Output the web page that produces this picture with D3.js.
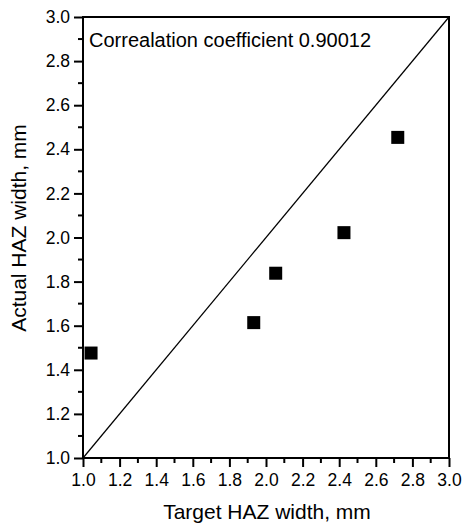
<!DOCTYPE html>
<html>
<head>
<meta charset="utf-8">
<script src="https://cdn.jsdelivr.net/npm/d3@7"></script>
<style>
  body { margin: 0; background: #fff; }
  text { font-family: "Liberation Sans", Arial, sans-serif; fill: #000; }
</style>
</head>
<body>
<script>
// data
const targetWidth = [1.044, 1.933, 2.053, 2.426, 2.72];
const actualWidth = [1.476, 1.614, 1.838, 2.022, 2.454];
const majorTicks = [1.0, 1.2, 1.4, 1.6, 1.8, 2.0, 2.2, 2.4, 2.6, 2.8, 3.0];
const minorTicks = [1.1, 1.3, 1.5, 1.7, 1.9, 2.1, 2.3, 2.5, 2.7, 2.9];
const diagonal = [1.0, 3.0];
const noteText = "Correalation coefficient 0.90012";

const width = 463, height = 524;
const margin = {top: 17, right: 14, bottom: 66, left: 83};

const svg = d3.select("body").append("svg")
    .attr("width", width).attr("height", height);

const x = d3.scaleLinear().domain([1, 3]).range([margin.left, width - margin.right]);
const y = d3.scaleLinear().domain([1, 3]).range([height - margin.bottom, margin.top]);

// y = x reference line
svg.append("line")
    .attr("x1", x(diagonal[0])).attr("y1", y(diagonal[0]))
    .attr("x2", x(diagonal[1])).attr("y2", y(diagonal[1]))
    .attr("stroke", "#000").attr("stroke-width", 1.2);

// frame
svg.append("rect")
    .attr("x", x(1)).attr("y", y(3))
    .attr("width", x(3) - x(1)).attr("height", y(1) - y(3))
    .attr("fill", "none").attr("stroke", "#000").attr("stroke-width", 2);

// axes
const xAxis = d3.axisBottom(x).tickValues(majorTicks).tickFormat(d3.format(".1f"))
    .tickSize(9).tickPadding(7);
const yAxis = d3.axisLeft(y).tickValues(majorTicks).tickFormat(d3.format(".1f"))
    .tickSize(9).tickPadding(4);

const gx = svg.append("g").attr("transform", `translate(0,${y(1)})`).call(xAxis);
const gy = svg.append("g").attr("transform", `translate(${x(1)},0)`).call(yAxis);
[gx, gy].forEach(g => {
  g.select(".domain").remove();
  g.selectAll(".tick line").attr("stroke", "#000").attr("stroke-width", 2);
  g.selectAll(".tick text").attr("font-size", 17.5).attr("fill", "#000")
    .style("font-family", "Liberation Sans, Arial, sans-serif");
});

svg.append("g").selectAll("line").data(minorTicks).join("line")
    .attr("x1", d => x(d)).attr("x2", d => x(d))
    .attr("y1", y(1)).attr("y2", y(1) + 5)
    .attr("stroke", "#000").attr("stroke-width", 2);
svg.append("g").selectAll("line").data(minorTicks).join("line")
    .attr("y1", d => y(d)).attr("y2", d => y(d))
    .attr("x1", x(1)).attr("x2", x(1) - 5)
    .attr("stroke", "#000").attr("stroke-width", 2);

// points
const sq = 13;
svg.append("g").selectAll("rect").data(targetWidth).join("rect")
    .attr("x", d => x(d) - sq / 2)
    .attr("y", (d, i) => y(actualWidth[i]) - sq / 2)
    .attr("width", sq).attr("height", sq)
    .attr("fill", "#000");

// labels
svg.append("text")
    .attr("x", 267).attr("y", 519)
    .attr("text-anchor", "middle").attr("font-size", 21)
    .text("Target HAZ width, mm");

svg.append("text")
    .attr("transform", `translate(26,228) rotate(-90)`)
    .attr("text-anchor", "middle").attr("font-size", 21)
    .text("Actual HAZ width, mm");

svg.append("text")
    .attr("x", 89).attr("y", 47)
    .attr("font-size", 20)
    .text(noteText);
</script>
</body>
</html>
